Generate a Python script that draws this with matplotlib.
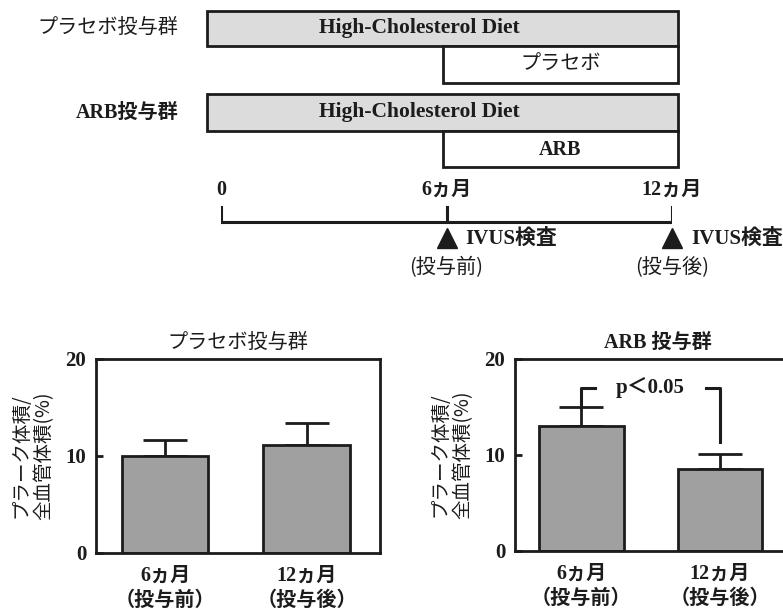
import matplotlib
matplotlib.use("Agg")
import matplotlib.pyplot as plt
from matplotlib.patches import Rectangle

# ---------------- data ----------------
group_labels = ["プラセボ投与群", "ARB投与群"]
treatment_labels = ["プラセボ", "ARB"]
diet_label = "High-Cholesterol Diet"
diet_span = [0, 12]          # months
treat_span = [6, 12]         # months
timeline_months = [0, 6, 12]
timeline_labels = ["0", "6ヵ月", "12ヵ月"]
ivus_months = [6, 12]
ivus_sub = ["(投与前)", "(投与後)"]

bar_categories = ["6ヵ月\n（投与前）", "12ヵ月\n（投与後）"]
placebo_values = [10.0, 11.1]
placebo_err = [1.7, 2.3]
arb_values = [13.0, 8.5]
arb_err = [2.0, 1.6]
y_ticks = [0, 10, 20]
p_text = "p＜0.05"
p_level = 17.0
p_right_end = 11.35

# ---------------- style ----------------
W, H = 783, 611
INK = "#1c1c1c"
JP = ["Noto Sans CJK JP", "DejaVu Sans"]
MIX = ["Liberation Serif", "Noto Sans CJK JP"]
plt.rcParams["font.family"] = MIX

fig = plt.figure(figsize=(W / 100, H / 100), dpi=100)


def pos(l, t, r, b):
    return [l / W, 1 - b / H, (r - l) / W, (b - t) / H]


def weight_for(s):
    # labels containing Latin letters or digits are set bold, pure Japanese normal
    return "bold" if any(c.isascii() and c.isalnum() for c in s) else "normal"


# ---------------- top schematic ----------------
ax_d = fig.add_axes(pos(207, 0, 678, 280))
ax_d.set_xlim(0, 12)
ax_d.set_ylim(280, 0)
ax_d.axis("off")

rows = [(11, 46, 83), (94, 131, 167)]
for (top, mid, bot), glab, tlab in zip(rows, group_labels, treatment_labels):
    ax_d.add_patch(Rectangle((diet_span[0], top), diet_span[1] - diet_span[0], mid - top,
                             facecolor="#dcdcdc", edgecolor=INK, lw=2.0, clip_on=False))
    ax_d.add_patch(Rectangle((treat_span[0], mid), treat_span[1] - treat_span[0], bot - mid,
                             facecolor="white", edgecolor=INK, lw=2.0, clip_on=False))
    ax_d.text(5.4, (top + mid) / 2, diet_label, ha="center", va="center",
              fontsize=15.5, fontweight="bold", color=INK, family=MIX)
    ax_d.text((treat_span[0] + treat_span[1]) / 2, (mid + bot) / 2 + 1, tlab,
              ha="center", va="center", fontsize=14.5, color=INK, family=MIX,
              fontweight=weight_for(tlab))
    ax_d.text(-0.72, (top + mid) / 2, glab, ha="right", va="center",
              fontsize=14.5, color=INK, family=MIX, clip_on=False,
              fontweight=weight_for(glab))

ax_t = fig.add_axes(pos(221, 0, 672, 280))
ax_t.set_xlim(0, 12)
ax_t.set_ylim(280, 0)
ax_t.axis("off")
ax_t.plot([timeline_months[0], timeline_months[-1]], [222, 222], color=INK, lw=2.2,
          solid_capstyle="butt")
for m, lab in zip(timeline_months, timeline_labels):
    ax_t.plot([m, m], [207, 222], color=INK, lw=2.2)
    ax_t.text(m, 190, lab, ha="center", va="center", fontsize=14.5,
              fontweight="bold", color=INK, family=MIX)
for m, sub in zip(ivus_months, ivus_sub):
    ax_t.plot([m], [238], marker="^", markersize=15, color=INK, clip_on=False)
    ax_t.text(m + 0.5, 239, "IVUS検査", ha="left", va="center", fontsize=15,
              fontweight="bold", color=INK, family=MIX, clip_on=False)
    ax_t.text(m, 268, sub, ha="center", va="center", fontsize=14.5,
              color=INK, family=JP)


# ---------------- bar panels ----------------
def panel(rect, values, errs, title, xlim):
    ax = fig.add_axes(rect)
    x = list(range(len(values)))
    ax.errorbar(x, values, yerr=[[0] * len(errs), errs], fmt="none", ecolor=INK,
                elinewidth=2.0, capsize=16, capthick=2.0, zorder=1)
    ax.bar(x, values, width=0.61, color="#a0a0a0", edgecolor=INK, lw=2.0, zorder=2)
    ax.set_ylim(0, 20)
    ax.set_xlim(*xlim)
    ax.set_yticks(y_ticks)
    ax.set_yticklabels([str(t) for t in y_ticks], fontsize=15, fontweight="bold",
                       family="Liberation Serif")
    ax.set_xticks(x)
    ax.set_xticklabels(bar_categories, fontsize=14.5, linespacing=1.35, family=MIX,
                       color=INK)
    for lbl in ax.get_xticklabels():
        lbl.set_fontweight("bold")
    ax.tick_params(axis="y", direction="in", length=5, width=2, pad=7, colors=INK)
    ax.tick_params(axis="x", length=0, pad=9)
    for s in ax.spines.values():
        s.set_linewidth(2.0)
        s.set_color(INK)
    ax.set_title(title, fontsize=14.5, color=INK, pad=8, family=MIX,
                 fontweight=weight_for(title))
    ax.set_ylabel("プラーク体積/\n全血管体積(%)", fontsize=14, family=JP, color=INK,
                  linespacing=1.15, labelpad=8)
    return ax


ax1 = panel(pos(96, 359, 380, 553), placebo_values, placebo_err, "プラセボ投与群",
            (-0.49, 1.52))
ax2 = panel(pos(515, 359, 800, 551), arb_values, arb_err, "ARB 投与群",
            (-0.48, 1.58))

# significance bracket
top0 = arb_values[0] + arb_err[0]
ax2.plot([0, 0, 0.1], [top0, p_level, p_level], color=INK, lw=2.2, zorder=3)
ax2.plot([0.9, 1.0, 1.0], [p_level, p_level, p_right_end], color=INK, lw=2.2, zorder=3)
ax2.text(0.5, p_level, p_text, ha="center", va="center", fontsize=15,
         fontweight="bold", color=INK, family=MIX)

fig.savefig("out.png", dpi=100)
